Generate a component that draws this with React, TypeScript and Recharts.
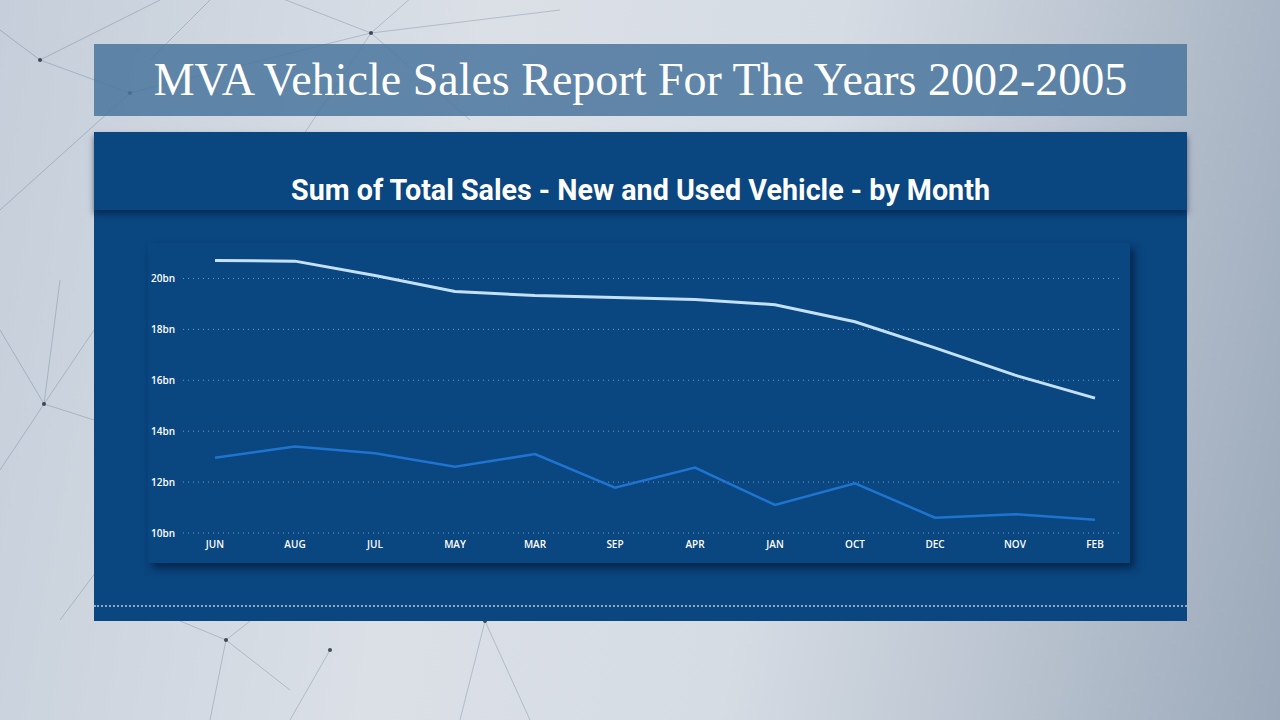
import { LineChart, Line, XAxis, YAxis, ReferenceLine } from 'recharts';

// months in the order shown on the report
const months = ['JUN', 'AUG', 'JUL', 'MAY', 'MAR', 'SEP', 'APR', 'JAN', 'OCT', 'DEC', 'NOV', 'FEB'];

// total sales in billions
const upperSales = [20.71, 20.68, 20.12, 19.49, 19.33, 19.25, 19.17, 18.97, 18.3, 17.27, 16.2, 15.3];
const lowerSales = [12.96, 13.4, 13.13, 12.6, 13.1, 11.78, 12.57, 11.1, 11.95, 10.6, 10.74, 10.52];

const yTicks = [10, 12, 14, 16, 18, 20];

const data = months.map((m, i) => ({ month: m, upper: upperSales[i], lower: lowerSales[i] }));

const tickStyle = { fill: '#ffffff', fontSize: 10, fontFamily: '"Open Sans", sans-serif', fontWeight: 600 };

// faint background network decoration (slide art, not data)
const netLines: [number, number, number, number][] = [
    [371, 33, 260, -10], [371, 33, 420, -10], [371, 33, 300, 140], [371, 33, 470, 120], [371, 33, 560, 10],
    [371, 33, 130, 93], [40, 60, 130, 93], [0, 30, 40, 60], [40, 60, 160, 0], [130, 93, 0, 210],
    [44, 404, 0, 330], [44, 404, 94, 330], [44, 404, 0, 470], [44, 404, 94, 420], [60, 280, 44, 404],
    [226, 640, 180, 621], [226, 640, 210, 720], [226, 640, 290, 690], [226, 640, 250, 621], [330, 650, 290, 720],
    [485, 621, 460, 720], [485, 621, 530, 720], [120, 540, 60, 620], [210, 0, 150, 60],
];
const netDots: [number, number][] = [[371, 33], [40, 60], [130, 93], [44, 404], [226, 640], [330, 650], [485, 621]];

export default function App() {
    return (
        <div
            style={{
                position: 'fixed',
                left: 0,
                top: 0,
                width: 1280,
                height: 720,
                overflow: 'hidden',
                background: 'linear-gradient(100deg, #c5ceda 0%, #dbe0e7 35%, #d6dce4 60%, #b7c1ce 82%, #9ba9ba 100%)',
            }}
        >
            <svg width={1280} height={720} style={{ position: 'absolute', left: 0, top: 0 }}>
                {netLines.map(([x1, y1, x2, y2], i) => (
                    <line key={i} x1={x1} y1={y1} x2={x2} y2={y2} stroke="#3d5573" strokeOpacity={0.25} strokeWidth={1} />
                ))}
                {netDots.map(([cx, cy], i) => (
                    <circle key={i} cx={cx} cy={cy} r={2} fill="#1d2a3a" fillOpacity={0.8} />
                ))}
            </svg>

            {/* title banner */}
            <div
                style={{
                    position: 'absolute',
                    left: 94,
                    top: 44,
                    width: 1093,
                    height: 72,
                    background: 'rgba(74, 117, 158, 0.85)',
                    color: '#ffffff',
                    fontFamily: '"Liberation Serif", serif',
                    fontSize: 46,
                    lineHeight: '72px',
                    textAlign: 'center',
                }}
            >
                MVA Vehicle Sales Report For The Years 2002-2005
            </div>

            {/* dark panel */}
            <div
                style={{
                    position: 'absolute',
                    left: 94,
                    top: 132,
                    width: 1093,
                    height: 489,
                    background: '#0a4680',
                }}
            >
                <div
                    style={{
                        position: 'absolute',
                        left: 0,
                        top: 0,
                        width: 1093,
                        height: 78,
                        background: '#0a4680',
                        boxShadow: '0 4px 6px rgba(0, 20, 50, 0.55)',
                        color: '#ffffff',
                        fontFamily: 'Roboto, sans-serif',
                        fontWeight: 700,
                        fontSize: 28.7,
                        textAlign: 'center',
                        lineHeight: '28px',
                        paddingTop: 44,
                        boxSizing: 'border-box',
                    }}
                >
                    Sum of Total Sales - New and Used Vehicle - by Month
                </div>
                <div
                    style={{
                        position: 'absolute',
                        left: 0,
                        top: 473,
                        width: 1093,
                        height: 0,
                        borderTop: '2px dotted #8ea6c0',
                    }}
                />
                <div
                    style={{
                        position: 'absolute',
                        left: 54,
                        top: 111,
                        width: 982,
                        height: 320,
                        background: '#0a4680',
                        boxShadow: '4px 5px 8px rgba(0, 15, 40, 0.6)',
                    }}
                >
                    <LineChart width={982} height={320} data={data} margin={{ top: 10, right: 7, bottom: 0, left: 0 }}>
                        <XAxis
                            dataKey="month"
                            axisLine={false}
                            tickLine={false}
                            tick={tickStyle}
                            height={30}
                            padding={{ left: 32, right: 28 }}
                            interval={0}
                            tickMargin={2}
                        />
                        <YAxis
                            domain={[10, 21]}
                            ticks={yTicks}
                            axisLine={false}
                            tickLine={false}
                            width={35}
                            tick={tickStyle}
                            tickFormatter={(v) => `${v}bn`}
                            tickMargin={2}
                        />
                        {yTicks.map((t) => (
                            <ReferenceLine key={t} y={t} stroke="#9dbde0" strokeDasharray="1 4" strokeOpacity={0.7} />
                        ))}
                        <Line
                            type="linear"
                            dataKey="upper"
                            stroke="#c4e1fb"
                            strokeWidth={3}
                            dot={false}
                            isAnimationActive={false}
                        />
                        <Line
                            type="linear"
                            dataKey="lower"
                            stroke="#1f74d0"
                            strokeWidth={2.5}
                            dot={false}
                            isAnimationActive={false}
                        />
                    </LineChart>
                </div>
            </div>
        </div>
    );
}
